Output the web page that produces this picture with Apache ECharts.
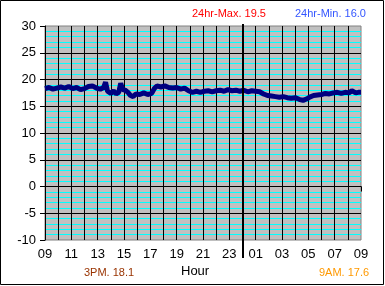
<!DOCTYPE html>
<html><head><meta charset="utf-8">
<script src="https://cdn.jsdelivr.net/npm/echarts@6/dist/echarts.min.js"></script>
<style>html,body{margin:0;padding:0;background:#fff}#c{width:385px;height:286px}</style>
</head><body><div id="c"></div>
<script>
// hours after 09:00
const hours = [0.0,0.3,0.6,0.9,1.2,1.5,1.8,2.1,2.4,2.7,3.0,3.3,3.6,3.9,4.2,4.45,4.6,4.75,5.0,5.2,5.4,5.6,5.75,5.9,6.1,6.3,6.5,6.7,6.9,7.2,7.5,7.8,8.1,8.3,8.5,8.8,9.1,9.4,9.7,10.0,10.3,10.6,10.9,11.2,11.5,11.8,12.1,12.4,12.7,13.0,13.3,13.6,13.9,14.2,14.5,14.8,15.1,15.4,15.7,16.0,16.3,16.6,16.9,17.2,17.5,17.8,18.1,18.4,18.7,19.0,19.3,19.6,19.9,20.1,20.4,20.7,21.0,21.3,21.6,21.9,22.2,22.5,22.8,23.1,23.3,23.45,23.6,23.8,24.0];
const temps = [18.3,18.5,18.2,18.4,18.6,18.4,18.7,18.3,18.5,18.1,18.3,18.7,18.8,18.4,18.2,18.5,19.5,17.8,17.4,17.9,17.3,17.6,19.3,18.1,18.0,17.6,17.0,16.8,17.3,17.2,17.5,17.2,17.4,18.3,18.8,18.6,18.8,18.5,18.4,18.5,18.2,18.4,17.9,17.6,17.8,17.6,17.8,17.9,17.7,17.9,18.0,17.8,18.1,17.9,18.0,17.8,18.0,17.7,17.9,17.8,17.7,17.3,17.0,16.9,16.8,16.7,16.8,16.6,16.5,16.6,16.3,16.1,16.4,16.7,17.0,17.1,17.2,17.4,17.3,17.5,17.6,17.4,17.6,17.5,17.9,18.2,17.5,17.6,17.6];
const startHour = 9;
const midnightOffset = 15;
const yTicks = {min:-10, max:30, step:5};
const maxText = '24hr-Max. 19.5';
const minText = '24hr-Min. 16.0';
const pmText = '3PM. 18.1';
const amText = '9AM. 17.6';
const xName = 'Hour';

const FONT = 'Arial, "Liberation Sans", sans-serif';
const chart = echarts.init(document.getElementById('c'), null, {renderer:'canvas'});
const data = hours.map((h,i)=>[h,temps[i]]);
chart.setOption({
  animation:false,
  grid:{left:45, top:26, width:316, height:214, show:true, backgroundColor:'#c0c0c0', borderColor:'#808080', borderWidth:1},
  xAxis:[{
    type:'value', min:0, max:24, interval:2, z:3,
    axisLine:{show:true, lineStyle:{color:'#000', width:1}},
    axisTick:{show:true, length:5, lineStyle:{color:'#000'}},
    axisLabel:{color:'#000', fontFamily:FONT, fontSize:13, margin:8,
      formatter:v=>String((startHour+v)%24).padStart(2,'0')},
    splitLine:{show:false}
  },{
    type:'value', min:0, max:24, interval:1, z:2, position:'bottom',
    axisLine:{show:false}, axisTick:{show:false}, axisLabel:{show:false},
    splitLine:{show:true, showMinLine:false, showMaxLine:false, lineStyle:{color:'#000', width:1}}
  }],
  yAxis:{
    type:'value', min:yTicks.min, max:yTicks.max, interval:yTicks.step, z:1,
    axisLine:{show:true, lineStyle:{color:'#000', width:1}},
    axisTick:{show:true, length:5, lineStyle:{color:'#000'}},
    axisLabel:{color:'#000', fontFamily:FONT, fontSize:13, margin:9},
    splitLine:{show:true, showMinLine:false, showMaxLine:false, lineStyle:{color:'#000', width:1}},
    minorTick:{show:false, splitNumber:5},
    minorSplitLine:{show:true, lineStyle:{color:'#00ffff', width:1}}
  },
  series:[{type:'line', data:data, showSymbol:false, z:5,
    lineStyle:{color:'#000080', width:5}, itemStyle:{color:'#000080'}}]
});
const pTop = chart.convertToPixel({gridIndex:0},[midnightOffset, yTicks.max]);
const pBot = chart.convertToPixel({gridIndex:0},[midnightOffset, yTicks.min]);
const mx = Math.round(pTop[0]);
chart.setOption({graphic:[
  {type:'rect', shape:{x:0.5,y:0.5,width:383,height:284}, style:{fill:null, stroke:'#000', lineWidth:1}, silent:true},
  {type:'line', shape:{x1:mx, y1:pTop[1]-2, x2:mx, y2:pBot[1]+18}, style:{stroke:'#000', lineWidth:2}, z:100},
  {type:'text', left:192, top:8, style:{text:maxText, fill:'#ff0000', font:'11px '+FONT}},
  {type:'text', left:295, top:8, style:{text:minText, fill:'#3355ff', font:'11px '+FONT}},
  {type:'text', left:84, top:267, style:{text:pmText, fill:'#993300', font:'11px '+FONT}},
  {type:'text', left:181, top:265, style:{text:xName, fill:'#000', font:'13px '+FONT}},
  {type:'text', left:319, top:267, style:{text:amText, fill:'#ff9900', font:'11px '+FONT}}
]});
</script></body></html>
